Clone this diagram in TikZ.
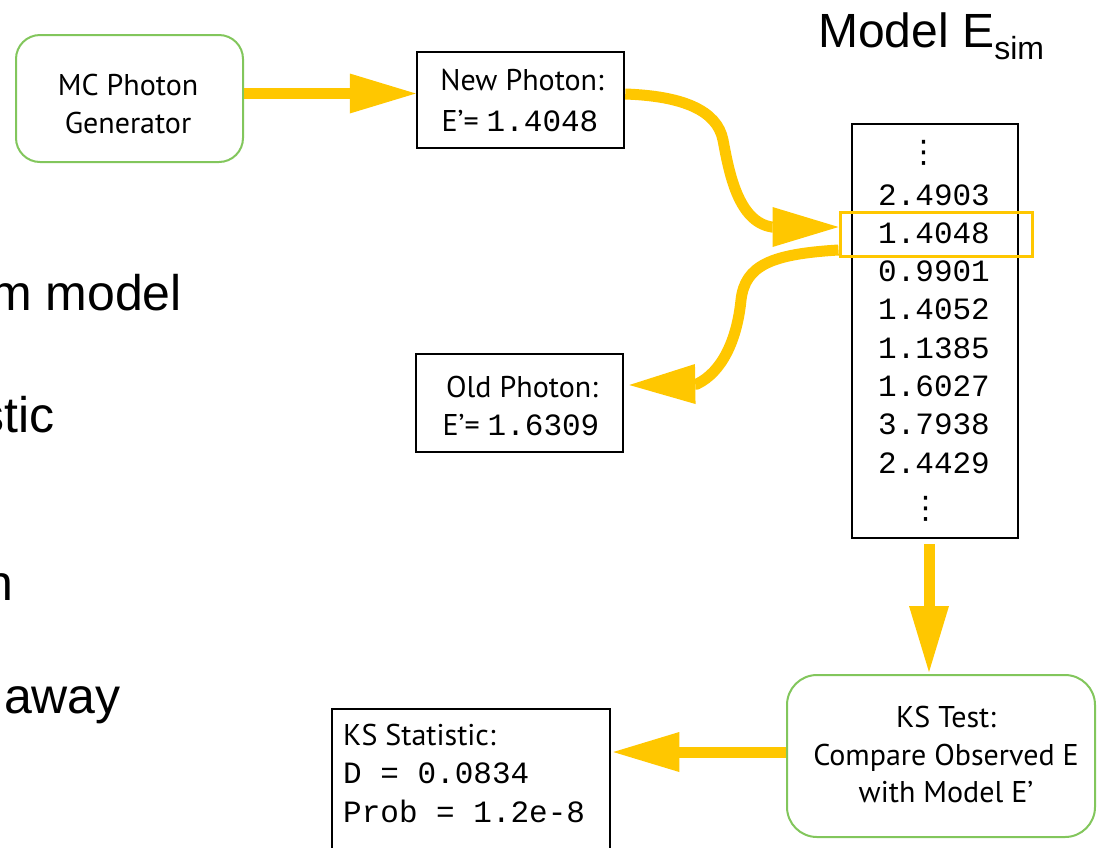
\documentclass[tikz,border=0pt]{standalone}
\usepackage{fontspec}
\setmainfont{PT Sans}
\newfontfamily\slidefont{Liberation Sans}
\newfontfamily\codefont{Liberation Mono}
\newfontfamily\symbolfont{DejaVu Sans}
\usetikzlibrary{arrows.meta}
\definecolor{flowyellow}{RGB}{255,199,0}
\definecolor{boxgreen}{RGB}{130,198,92}
\newcommand{\boxtext}{\fontsize{30}{38}\selectfont}
\newcommand{\numtext}{\codefont\fontsize{31}{38}\selectfont}
\newcommand{\slidetext}{\slidefont\fontsize{50}{60}\selectfont}
\newcommand{\vdotsglyph}{{\symbolfont\fontsize{31}{31}\selectfont ⋮}}

\begin{document}
\begin{tikzpicture}[x=1pt, y=-1pt,
  greenbox/.style={draw=boxgreen, line width=2pt, rounded corners=24pt, inner sep=0pt},
  blackbox/.style={draw=black, line width=2.5pt, inner sep=0pt},
  hlbox/.style={draw=flowyellow, line width=3pt, inner sep=0pt},
  label/.style={font=\boxtext, anchor=base, inner sep=0pt},
  numrow/.style={font=\numtext, anchor=base, inner sep=0pt},
  slideline/.style={font=\slidetext, anchor=base east, inner sep=0pt},
  flow/.style={draw=flowyellow, line width=11pt,
    -{Triangle[length=66pt, width=40pt, line width=0pt]}}]
\useasboundingbox (0,0) rectangle (1100,847);
\clip (0,0) rectangle (1100,847);

% slide text running off the left edge
\node[slideline] (s1) at (182,310) {m model};
\node[slideline] (s2) at (55,432) {stic};
\node[slideline] (s3) at (14,600) {n};
\node[slideline] (s4) at (121,713) {away};

% heading over the list of simulated energies
\node[anchor=base west, inner sep=0pt, font=\slidefont\fontsize{48}{50}\selectfont]
  (title) at (818,47) {Model E\raisebox{-12pt}{\fontsize{32}{32}\selectfont sim}};

% boxes
\node[greenbox, minimum width=227pt, minimum height=127pt] (gen) at (129.5,98.5) {};
\node[blackbox, minimum width=207pt, minimum height=96pt] (newph) at (520.5,100) {};
\node[blackbox, minimum width=207pt, minimum height=98pt] (oldph) at (519.5,403) {};
\node[blackbox, minimum width=166pt, minimum height=414pt] (list) at (935,331) {};
\node[greenbox, minimum width=308pt, minimum height=162pt, rounded corners=30pt] (kstest) at (941,756) {};
\node[blackbox, minimum width=278pt, minimum height=171pt] (stat) at (471,794.5) {};

% box texts
\node[label] (genA) at (128,95) {MC Photon};
\node[label] (genB) at (128,133) {Generator};
\node[label] (newA) at (522,90) {New Photon:};
\node[label] (newB) at (520,131) {E’= {\numtext 1.4048}};
\node[label] (oldA) at (522,397) {Old Photon:};
\node[label] (oldB) at (521,435) {E’= {\numtext 1.6309}};
\node[label] (ksA) at (946,727) {KS Test:};
\node[label] (ksB) at (946,765) {Compare Observed E};
\node[label] (ksC) at (946,802) {with Model E’};
\node[label, anchor=base west] (statA) at (343,745) {KS Statistic:};
\node[numrow, anchor=base west] (statB) at (343,783) {D = 0.0834};
\node[numrow, anchor=base west] (statC) at (343,822) {Prob = 1.2e-8};

% simulated energies
\node[inner sep=0pt] (dotsA) at (924,153) {\vdotsglyph};
\node[numrow] (r1) at (934,205) {2.4903};
\node[numrow] (r2) at (934,243.3) {1.4048};
\node[numrow] (r3) at (934,281.6) {0.9901};
\node[numrow] (r4) at (934,319.9) {1.4052};
\node[numrow] (r5) at (934,358.2) {1.1385};
\node[numrow] (r6) at (934,396.5) {1.6027};
\node[numrow] (r7) at (934,434.8) {3.7938};
\node[numrow] (r8) at (934,473.1) {2.4429};
\node[inner sep=0pt] (dotsB) at (926,509) {\vdotsglyph};
\node[hlbox, minimum width=192pt, minimum height=44pt] (hl) at (936,234) {};

% flow of photons
\draw[flow] ([yshift=5pt]gen.east) -- ([yshift=5pt]gen.east -| newph.west);
\coordinate (bendA) at (723,140);
\coordinate (headA) at (772,227);
\draw[flow] ([yshift=6pt]newph.east) .. controls (682,96) and (717,110) .. (bendA)
  .. controls (729,172) and (738,222) .. (headA) -- ([yshift=7pt]hl.west);
\coordinate (bendB) at (741,300);
\coordinate (headB) at (697,384);
\draw[flow] ([yshift=-16pt]hl.west) .. controls (772,254) and (745,265) .. (bendB)
  .. controls (737,340) and (722,372) .. (headB) -- ([xshift=5pt,yshift=18pt]oldph.east);
\draw[flow] ([xshift=-6pt,yshift=-5pt]list.south) -- ([xshift=-6pt,yshift=2pt]list.south |- kstest.north);
\draw[flow] ([yshift=4pt]kstest.west) -- ([xshift=2pt,yshift=4pt]kstest.west -| stat.east);
\end{tikzpicture}
\end{document}
